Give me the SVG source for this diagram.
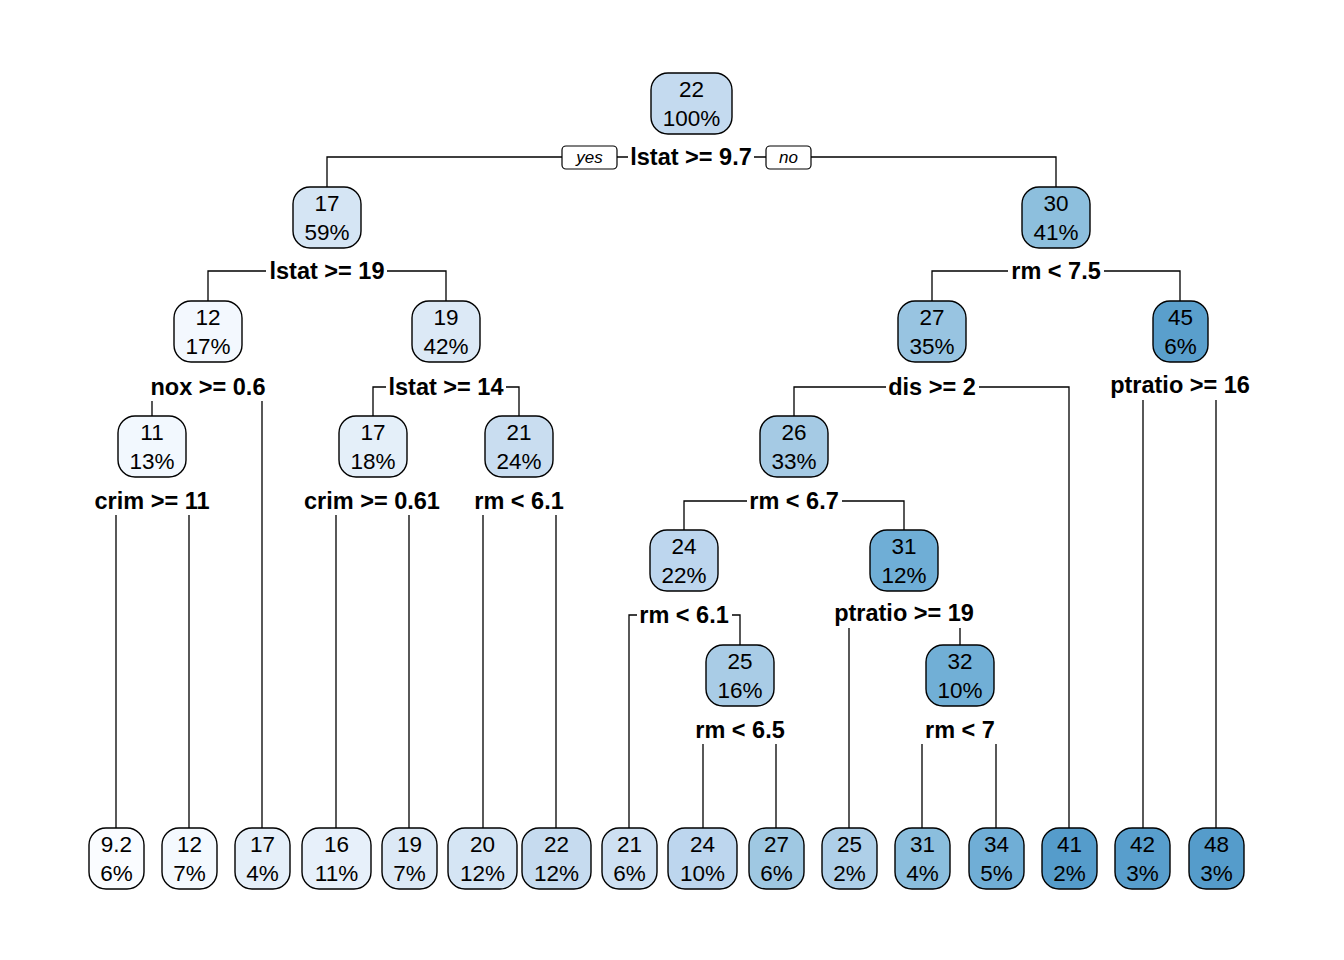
<svg xmlns="http://www.w3.org/2000/svg" width="1344" height="960" viewBox="0 0 1344 960">
<style>
.nd rect{stroke:#000;stroke-width:1.4}
.nd text{font-family:"Liberation Sans",Arial,sans-serif;font-size:22.5px;text-anchor:middle;fill:#000}
.sp{font-family:"Liberation Sans",Arial,sans-serif;font-size:23.5px;font-weight:bold;text-anchor:middle;fill:#000}
.yn{font-family:"Liberation Sans",Arial,sans-serif;font-size:17px;font-style:italic;text-anchor:middle;fill:#000}
#edges path{fill:none;stroke:#000;stroke-width:1.3}
#edges rect{fill:#fff;stroke:#000;stroke-width:1.2}
</style>
<rect width="1344" height="960" fill="#fff"/>
<g id="edges">
<path d="M327 187V157H562M617 157H628M754 157H766M811 157H1056V187"/>
<rect x="562" y="146" width="55" height="23" rx="4"/>
<rect x="766" y="146" width="45" height="23" rx="4"/>
<path d="M208 301V271H266M387 271H446V301"/>
<path d="M932 301V271H1008M1104 271H1180V301"/>
<path d="M152 401V416M262 401V828"/>
<path d="M373 416V387H386M506 387H519V416"/>
<path d="M794 416V387H886M979 387H1069V828"/>
<path d="M1143 400V828M1216 400V828"/>
<path d="M116 515V828M189 515V828"/>
<path d="M336 515V828M409 515V828"/>
<path d="M483 515V828M556 515V828"/>
<path d="M684 530V501H747M842 501H904V530"/>
<path d="M629 828V615H637M732 615H740V645"/>
<path d="M849 628V828M960 628V645"/>
<path d="M703 744V828M776 744V828"/>
<path d="M922 744V828M996 744V828"/>
</g>
<g id="labels">
<text class="yn" x="589.5" y="163">yes</text>
<text class="yn" x="788.5" y="163">no</text>
<text class="sp" x="691" y="165">lstat &gt;= 9.7</text>
<text class="sp" x="327" y="279">lstat &gt;= 19</text>
<text class="sp" x="1056" y="279">rm &lt; 7.5</text>
<text class="sp" x="208" y="395">nox &gt;= 0.6</text>
<text class="sp" x="446" y="395">lstat &gt;= 14</text>
<text class="sp" x="932" y="395">dis &gt;= 2</text>
<text class="sp" x="1180" y="393">ptratio &gt;= 16</text>
<text class="sp" x="152" y="509">crim &gt;= 11</text>
<text class="sp" x="372" y="509">crim &gt;= 0.61</text>
<text class="sp" x="519" y="509">rm &lt; 6.1</text>
<text class="sp" x="794" y="509">rm &lt; 6.7</text>
<text class="sp" x="684" y="623">rm &lt; 6.1</text>
<text class="sp" x="904" y="621">ptratio &gt;= 19</text>
<text class="sp" x="740" y="738">rm &lt; 6.5</text>
<text class="sp" x="960" y="738">rm &lt; 7</text>
</g>
<g id="n1" class="nd"><rect x="651" y="73" width="81" height="61" rx="17" fill="#C4DAEF"/><text x="691.5" y="97">22</text><text x="691.5" y="126">100%</text></g>
<g id="n2" class="nd"><rect x="293" y="187" width="68" height="61" rx="17" fill="#D5E5F4"/><text x="327" y="211">17</text><text x="327" y="240">59%</text></g>
<g id="n3" class="nd"><rect x="1022" y="187" width="68" height="61" rx="17" fill="#8DBFDD"/><text x="1056" y="211">30</text><text x="1056" y="240">41%</text></g>
<g id="n4" class="nd"><rect x="174" y="301" width="68" height="61" rx="17" fill="#F3F8FE"/><text x="208" y="325">12</text><text x="208" y="354">17%</text></g>
<g id="n5" class="nd"><rect x="412" y="301" width="68" height="61" rx="17" fill="#DCE9F6"/><text x="446" y="325">19</text><text x="446" y="354">42%</text></g>
<g id="n6" class="nd"><rect x="898" y="301" width="68" height="61" rx="17" fill="#98C4E1"/><text x="932" y="325">27</text><text x="932" y="354">35%</text></g>
<g id="n7" class="nd"><rect x="1153" y="301" width="55" height="61" rx="17" fill="#5A9FCC"/><text x="1180.5" y="325">45</text><text x="1180.5" y="354">6%</text></g>
<g id="n8" class="nd"><rect x="118" y="416" width="68" height="61" rx="17" fill="#F2F8FE"/><text x="152" y="440">11</text><text x="152" y="469">13%</text></g>
<g id="n9" class="nd"><rect x="339" y="416" width="68" height="61" rx="17" fill="#E4EFF9"/><text x="373" y="440">17</text><text x="373" y="469">18%</text></g>
<g id="n10" class="nd"><rect x="485" y="416" width="68" height="61" rx="17" fill="#C9DDF0"/><text x="519" y="440">21</text><text x="519" y="469">24%</text></g>
<g id="n11" class="nd"><rect x="760" y="416" width="68" height="61" rx="17" fill="#A5CAE4"/><text x="794" y="440">26</text><text x="794" y="469">33%</text></g>
<g id="n12" class="nd"><rect x="650" y="530" width="68" height="61" rx="17" fill="#BDD6EE"/><text x="684" y="554">24</text><text x="684" y="583">22%</text></g>
<g id="n13" class="nd"><rect x="870" y="530" width="68" height="61" rx="17" fill="#6FAED6"/><text x="904" y="554">31</text><text x="904" y="583">12%</text></g>
<g id="n14" class="nd"><rect x="706" y="645" width="68" height="61" rx="17" fill="#A9CCE6"/><text x="740" y="669">25</text><text x="740" y="698">16%</text></g>
<g id="n15" class="nd"><rect x="926" y="645" width="68" height="61" rx="17" fill="#71AFD6"/><text x="960" y="669">32</text><text x="960" y="698">10%</text></g>
<g id="l1" class="nd"><rect x="89" y="828" width="55" height="61" rx="17" fill="#FAFCFF"/><text x="116.5" y="852">9.2</text><text x="116.5" y="881">6%</text></g>
<g id="l2" class="nd"><rect x="162" y="828" width="55" height="61" rx="17" fill="#F4F9FE"/><text x="189.5" y="852">12</text><text x="189.5" y="881">7%</text></g>
<g id="l3" class="nd"><rect x="235" y="828" width="55" height="61" rx="17" fill="#E5EFF9"/><text x="262.5" y="852">17</text><text x="262.5" y="881">4%</text></g>
<g id="l4" class="nd"><rect x="302" y="828" width="69" height="61" rx="17" fill="#E7F0FA"/><text x="336.5" y="852">16</text><text x="336.5" y="881">11%</text></g>
<g id="l5" class="nd"><rect x="382" y="828" width="55" height="61" rx="17" fill="#DCE9F6"/><text x="409.5" y="852">19</text><text x="409.5" y="881">7%</text></g>
<g id="l6" class="nd"><rect x="448" y="828" width="69" height="61" rx="17" fill="#D5E5F4"/><text x="482.5" y="852">20</text><text x="482.5" y="881">12%</text></g>
<g id="l7" class="nd"><rect x="522" y="828" width="69" height="61" rx="17" fill="#C6DBEF"/><text x="556.5" y="852">22</text><text x="556.5" y="881">12%</text></g>
<g id="l8" class="nd"><rect x="602" y="828" width="55" height="61" rx="17" fill="#CEE0F2"/><text x="629.5" y="852">21</text><text x="629.5" y="881">6%</text></g>
<g id="l9" class="nd"><rect x="668" y="828" width="69" height="61" rx="17" fill="#BDD6EE"/><text x="702.5" y="852">24</text><text x="702.5" y="881">10%</text></g>
<g id="l10" class="nd"><rect x="749" y="828" width="55" height="61" rx="17" fill="#9FC8E2"/><text x="776.5" y="852">27</text><text x="776.5" y="881">6%</text></g>
<g id="l11" class="nd"><rect x="822" y="828" width="55" height="61" rx="17" fill="#AECFE8"/><text x="849.5" y="852">25</text><text x="849.5" y="881">2%</text></g>
<g id="l12" class="nd"><rect x="895" y="828" width="55" height="61" rx="17" fill="#8BBEDD"/><text x="922.5" y="852">31</text><text x="922.5" y="881">4%</text></g>
<g id="l13" class="nd"><rect x="969" y="828" width="55" height="61" rx="17" fill="#70AED6"/><text x="996.5" y="852">34</text><text x="996.5" y="881">5%</text></g>
<g id="l14" class="nd"><rect x="1042" y="828" width="55" height="61" rx="17" fill="#559CCB"/><text x="1069.5" y="852">41</text><text x="1069.5" y="881">2%</text></g>
<g id="l15" class="nd"><rect x="1115" y="828" width="55" height="61" rx="17" fill="#589ECC"/><text x="1142.5" y="852">42</text><text x="1142.5" y="881">3%</text></g>
<g id="l16" class="nd"><rect x="1189" y="828" width="55" height="61" rx="17" fill="#559CCB"/><text x="1216.5" y="852">48</text><text x="1216.5" y="881">3%</text></g>
</svg>
